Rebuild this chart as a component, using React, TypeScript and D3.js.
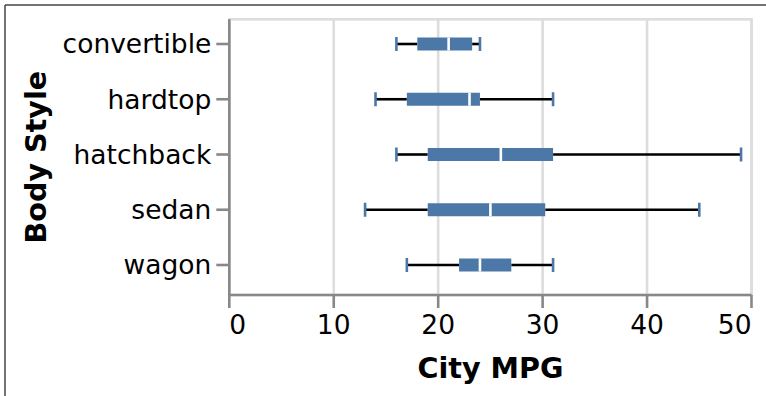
import React from "react";
import * as d3 from "d3";

// Box plot summaries (City MPG per body style)
const bodyStyles = ["convertible", "hardtop", "hatchback", "sedan", "wagon"];
const mins = [16, 14, 16, 13, 17];
const q1s = [18, 17, 19, 19, 22];
const medians = [21, 23, 26, 25, 24];
const q3s = [23.25, 24, 31, 30.25, 27];
const maxs = [24, 31, 49, 45, 31];
const xTicks = [0, 10, 20, 30, 40, 50];

const W = 766;
const H = 396;
const left = 229.3;
const right = 751.5;
const top = 19.3;
const bottom = 295;
const s = 2.6; // vega scale factor

const BLUE = "#4c78a8";
const FONT = "DejaVu Sans, sans-serif";

export default function App() {
  const x = d3.scaleLinear().domain([0, 50]).range([left, right]);
  const y = d3.scalePoint<string>().domain(bodyStyles).range([44, 265]);

  const boxH = 13;
  const capH = 14;

  return (
    <div style={{ position: "fixed", left: 0, top: 0 }}>
      <svg width={W} height={H} style={{ display: "block", background: "#fff" }}>
        {/* page frame */}
        <line x1={5} y1={5} x2={W} y2={5} stroke="#444" strokeWidth={1.5} />
        <line x1={5} y1={5} x2={5} y2={H} stroke="#444" strokeWidth={1.5} />

        {/* grid */}
        {xTicks.map((t) => (
          <line key={"g" + t} x1={x(t)} x2={x(t)} y1={top} y2={bottom} stroke="#ddd" strokeWidth={s} />
        ))}
        {/* view border */}
        <rect x={left} y={top} width={right - left} height={bottom - top} fill="none" stroke="#ddd" strokeWidth={s} />

        {/* boxes */}
        {bodyStyles.map((b, i) => {
          const cy = y(b) as number;
          return (
            <g key={b}>
              <line x1={x(mins[i])} x2={x(q1s[i])} y1={cy} y2={cy} stroke="#000" strokeWidth={s} />
              <line x1={x(q3s[i])} x2={x(maxs[i])} y1={cy} y2={cy} stroke="#000" strokeWidth={s} />
              <rect x={x(q1s[i])} y={cy - boxH / 2} width={x(q3s[i]) - x(q1s[i])} height={boxH} fill={BLUE} />
              <line x1={x(medians[i])} x2={x(medians[i])} y1={cy - boxH / 2} y2={cy + boxH / 2} stroke="#fff" strokeWidth={s} />
              <line x1={x(mins[i])} x2={x(mins[i])} y1={cy - capH / 2} y2={cy + capH / 2} stroke={BLUE} strokeWidth={s} />
              <line x1={x(maxs[i])} x2={x(maxs[i])} y1={cy - capH / 2} y2={cy + capH / 2} stroke={BLUE} strokeWidth={s} />
            </g>
          );
        })}

        {/* x axis */}
        <line x1={left} x2={right} y1={bottom} y2={bottom} stroke="#888" strokeWidth={s} />
        {xTicks.map((t, i) => (
          <g key={"x" + t}>
            <line x1={x(t)} x2={x(t)} y1={bottom} y2={bottom + 13} stroke="#888" strokeWidth={s} />
            <text
              x={x(t)}
              y={334}
              fontFamily={FONT}
              fontSize={26.5}
              fill="#000"
              textAnchor={i === 0 ? "start" : i === xTicks.length - 1 ? "end" : "middle"}
            >
              {t}
            </text>
          </g>
        ))}
        <text x={(left + right) / 2} y={378} fontFamily={FONT} fontSize={28.6} fontWeight="bold" textAnchor="middle">
          City MPG
        </text>

        {/* y axis */}
        <line x1={left} x2={left} y1={top} y2={bottom} stroke="#888" strokeWidth={s} />
        {bodyStyles.map((b) => (
          <g key={"y" + b}>
            <line x1={left - 13} x2={left} y1={y(b)} y2={y(b)} stroke="#888" strokeWidth={s} />
            <text
              x={left - 18}
              y={y(b)}
              dy="0.35em"
              fontFamily={FONT}
              fontSize={26.5}
              textAnchor="end"
              fill="#000"
            >
              {b}
            </text>
          </g>
        ))}
        <text
          transform={`translate(46,${(top + bottom) / 2}) rotate(-90)`}
          fontFamily={FONT}
          fontSize={28.6}
          fontWeight="bold"
          textAnchor="middle"
        >
          Body Style
        </text>
      </svg>
    </div>
  );
}
